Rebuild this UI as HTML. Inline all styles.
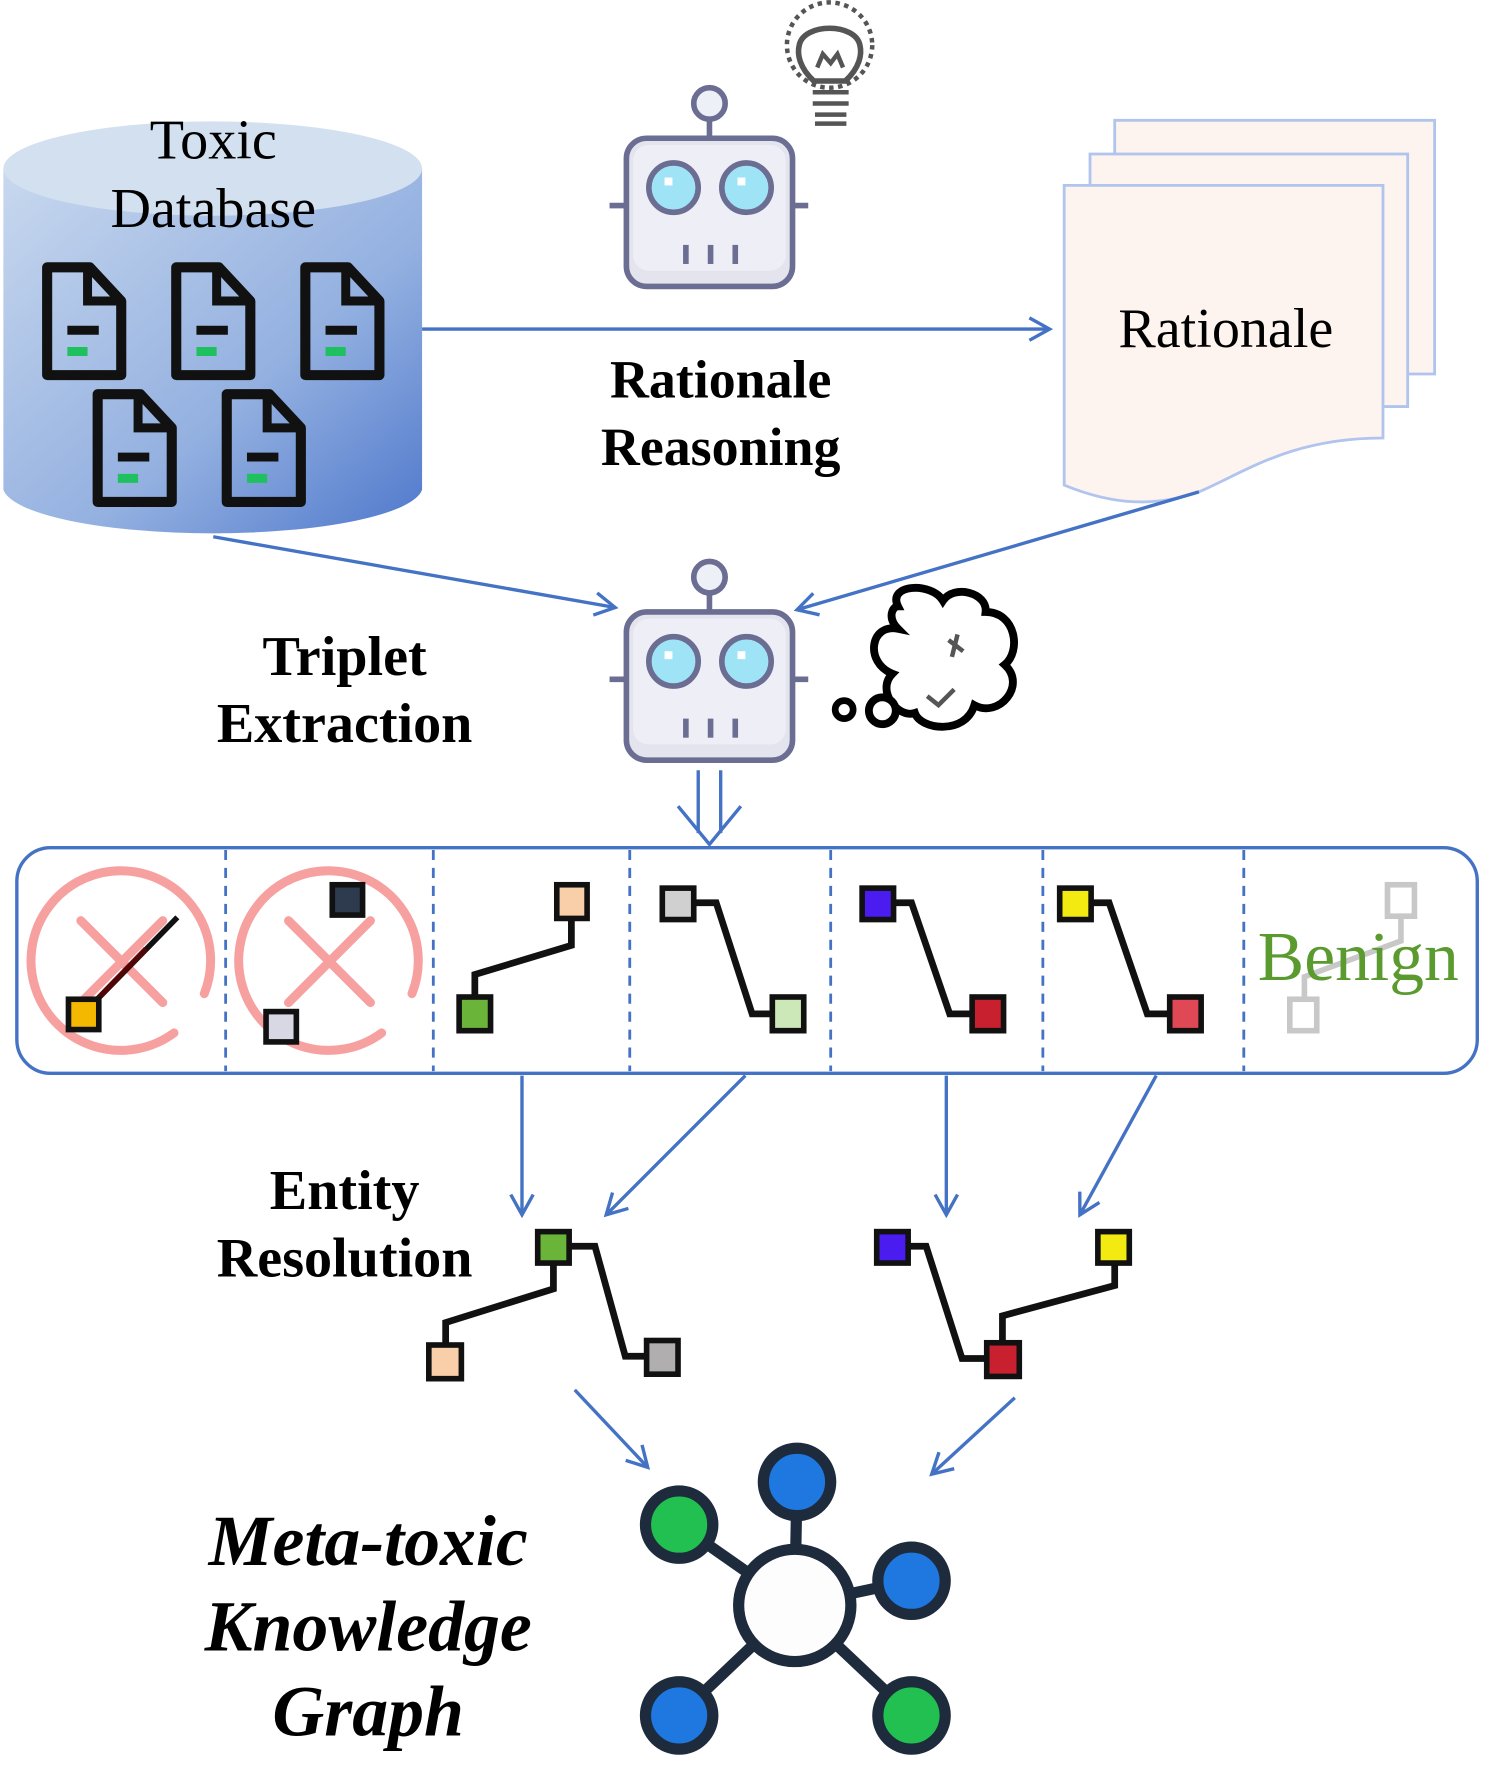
<!DOCTYPE html>
<html><head><meta charset="utf-8"><style>html,body{margin:0;padding:0;background:#fff}svg{display:block}</style></head><body>
<svg width="1493" height="1774" viewBox="0 0 1330 1580" xmlns="http://www.w3.org/2000/svg" font-family="Liberation Serif, serif">
<defs>
<linearGradient id="cyl" x1="0" y1="0" x2="1" y2="1"><stop offset="0" stop-color="#c8d8ee"/><stop offset="0.6" stop-color="#93b0e0"/><stop offset="1" stop-color="#4f78cc"/></linearGradient>
<marker id="ar" markerWidth="24" markerHeight="24" refX="20" refY="12" orient="auto" markerUnits="userSpaceOnUse"><path d="M2,2 L20,12 L2,22" fill="none" stroke="#4472c4" stroke-width="3"/></marker>
<g id="doc"><path d="M4,0 H42 L70,30 V96 H4 Z" fill="none" stroke="#111" stroke-width="9" stroke-linejoin="round"/><path d="M40,2 V30 H68" fill="none" stroke="#111" stroke-width="8"/><line x1="22" y1="56" x2="50" y2="56" stroke="#111" stroke-width="8"/><line x1="22" y1="75" x2="40" y2="75" stroke="#1fc060" stroke-width="8"/></g>
<g id="robot"><line x1="632" y1="106" x2="632" y2="124" stroke="#6b6d92" stroke-width="5"/><circle cx="632" cy="92" r="14" fill="#eef0f8" stroke="#6b6d92" stroke-width="5"/><line x1="543" y1="183" x2="560" y2="183" stroke="#6b6d92" stroke-width="5"/><line x1="704" y1="183" x2="720" y2="183" stroke="#6b6d92" stroke-width="5"/><rect x="558" y="123" width="148" height="132" rx="18" fill="#e3e4ee" stroke="#6b6d92" stroke-width="5"/><rect x="564" y="129" width="136" height="112" rx="14" fill="#eeeff6"/><circle cx="600" cy="167" r="22" fill="#9fe4f6" stroke="#6b6d92" stroke-width="5"/><circle cx="665" cy="167" r="22" fill="#9fe4f6" stroke="#6b6d92" stroke-width="5"/><rect x="592" y="158" width="7" height="7" fill="#fff"/><rect x="657" y="158" width="7" height="7" fill="#fff"/><g stroke="#6b6d92" stroke-width="5"><line x1="611" y1="218" x2="611" y2="235"/><line x1="633" y1="218" x2="633" y2="235"/><line x1="655" y1="218" x2="655" y2="235"/></g></g>
</defs>

<path d="M3,150 V436 A187,42 0 0 0 376,436 V150 Z" fill="url(#cyl)"/>
<ellipse cx="189.5" cy="150" rx="186.5" ry="42" fill="#d3e0f0"/>
<text x="190" y="141" font-size="50" text-anchor="middle">Toxic</text>
<text x="190" y="202" font-size="50" text-anchor="middle">Database</text>
<use href="#doc" x="38" y="238"/><use href="#doc" x="153" y="238"/><use href="#doc" x="268" y="238"/>
<use href="#doc" x="83" y="351"/><use href="#doc" x="198" y="351"/>

<line x1="376" y1="293" x2="935" y2="293" stroke="#4472c4" stroke-width="3" marker-end="url(#ar)"/>
<text x="642" y="354" font-size="48" font-weight="bold" text-anchor="middle">Rationale</text>
<text x="642" y="414" font-size="48" font-weight="bold" text-anchor="middle">Reasoning</text>

<use href="#robot"/>
<g fill="none" stroke="#555" stroke-width="4"><circle cx="739" cy="40" r="38" stroke-dasharray="4 4"/><path d="M725,72 C712,60 710,48 712,40 C716,20 762,20 766,40 C768,48 766,60 753,72 Z" fill="#fff" stroke-width="5"/><path d="M728,60 L733,48 L740,56 L746,48 L751,60"/><line x1="724" y1="82" x2="756" y2="82"/><line x1="724" y1="92" x2="756" y2="92"/><line x1="726" y1="102" x2="754" y2="102"/><line x1="726" y1="110" x2="754" y2="110"/></g>

<g fill="#fdf3ef" stroke="#b0c4ee" stroke-width="2.5">
<path d="M993,107 H1278 V333 H993 Z"/>
<path d="M971,137 H1254 V362 H971 Z"/>
<path d="M948,165 H1232 V390 C1150,390 1110,420 1068,438 C1020,455 980,445 948,432 Z"/>
</g>
<text x="1092" y="309" font-size="50" text-anchor="middle">Rationale</text>

<line x1="190" y1="478" x2="548" y2="541" stroke="#4472c4" stroke-width="3" marker-end="url(#ar)"/>
<line x1="1068" y1="438" x2="710" y2="543" stroke="#4472c4" stroke-width="3" marker-end="url(#ar)"/>

<use href="#robot" y="422"/>
<path d="M800,540 C790,520 830,518 840,535 C850,520 880,528 878,545 C905,545 910,580 895,592 C915,610 890,640 868,628 C860,655 820,650 815,635 C800,640 780,615 795,600 C770,590 775,555 800,560 C790,550 795,540 800,540 Z" fill="#fff" stroke="#000" stroke-width="7"/>
<path d="M845,570 L858,580 M853,565 L848,585" stroke="#555" stroke-width="4"/>
<path d="M826,620 L836,628 L850,614" fill="none" stroke="#555" stroke-width="4"/>
<circle cx="752" cy="632" r="8" fill="#fff" stroke="#000" stroke-width="6"/>
<circle cx="786" cy="633" r="12" fill="#fff" stroke="#000" stroke-width="7"/>
<text x="307" y="601" font-size="50" font-weight="bold" text-anchor="middle">Triplet</text>
<text x="307" y="661" font-size="50" font-weight="bold" text-anchor="middle">Extraction</text>

<line x1="622" y1="686" x2="622" y2="742" stroke="#4472c4" stroke-width="3"/>
<line x1="642" y1="686" x2="642" y2="742" stroke="#4472c4" stroke-width="3"/>
<path d="M604,718 L632,752 L660,718" fill="none" stroke="#4472c4" stroke-width="3"/>

<rect x="15" y="755" width="1301" height="201" rx="30" fill="#fff" stroke="#4472c4" stroke-width="3"/>
<g stroke="#4472c4" stroke-width="2.5" stroke-dasharray="9 7">
<line x1="201" y1="757" x2="201" y2="954"/><line x1="386" y1="757" x2="386" y2="954"/><line x1="561" y1="757" x2="561" y2="954"/><line x1="740" y1="757" x2="740" y2="954"/><line x1="929" y1="757" x2="929" y2="954"/><line x1="1108" y1="757" x2="1108" y2="954"/>
</g>
<g fill="none" stroke="#f7a0a0" stroke-width="8" stroke-linecap="round">
<path d="M155,920 A80,80 0 1 1 182,885"/><line x1="72" y1="820" x2="145" y2="893"/><line x1="145" y1="820" x2="72" y2="893"/>
<path d="M340,920 A80,80 0 1 1 367,885"/><line x1="257" y1="820" x2="330" y2="893"/><line x1="330" y1="820" x2="257" y2="893"/>
</g>
<line x1="74" y1="903" x2="158" y2="817" stroke="#111" stroke-width="5"/>
<line x1="74" y1="903" x2="130" y2="845" stroke="#7a0000" stroke-width="5" opacity="0.6"/>
<rect x="61" y="890" width="27" height="27" fill="#f5b800" stroke="#111" stroke-width="5"/>
<rect x="296" y="788" width="27" height="27" fill="#2e3a4d" stroke="#111" stroke-width="5"/>
<rect x="237" y="901" width="27" height="27" fill="#d8d8e4" stroke="#111" stroke-width="5"/>
<path d="M423,902 V868 L509,842 V802" fill="none" stroke="#111" stroke-width="6"/>
<rect x="409" y="888" width="28" height="30" fill="#6ab43a" stroke="#111" stroke-width="5"/>
<rect x="496" y="788" width="27" height="30" fill="#f8cfa8" stroke="#111" stroke-width="5"/>
<g fill="none" stroke="#111" stroke-width="6">
<path d="M604,804 H638 L670,903 H703"/><path d="M782,804 H812 L846,903 H880"/><path d="M958,804 H988 L1022,903 H1055"/>
</g>
<rect x="590" y="791" width="28" height="28" fill="#d0d0d0" stroke="#111" stroke-width="5"/>
<rect x="688" y="888" width="28" height="30" fill="#cce8b8" stroke="#111" stroke-width="5"/>
<rect x="768" y="791" width="28" height="28" fill="#4a1cf0" stroke="#111" stroke-width="5"/>
<rect x="866" y="888" width="28" height="30" fill="#c8202e" stroke="#111" stroke-width="5"/>
<rect x="944" y="791" width="28" height="28" fill="#f2ea10" stroke="#111" stroke-width="5"/>
<rect x="1042" y="888" width="28" height="30" fill="#e04856" stroke="#111" stroke-width="5"/>
<g fill="none" stroke="#c8c8c8" stroke-width="5"><rect x="1236" y="788" width="24" height="28"/><rect x="1149" y="890" width="24" height="28"/><path d="M1248,816 V838 L1162,870 V890"/></g>
<text x="1210" y="873" font-size="62" fill="#5a9a2e" text-anchor="middle">Benign</text>

<g stroke="#4472c4" stroke-width="3" marker-end="url(#ar)">
<line x1="465" y1="958" x2="465" y2="1082"/><line x1="664" y1="958" x2="540" y2="1082"/>
<line x1="843" y1="958" x2="843" y2="1082"/><line x1="1030" y1="958" x2="962" y2="1082"/>
<line x1="512" y1="1238" x2="577" y2="1307"/><line x1="904" y1="1245" x2="830" y2="1313"/>
</g>
<text x="307" y="1077" font-size="50" font-weight="bold" text-anchor="middle">Entity</text>
<text x="307" y="1137" font-size="50" font-weight="bold" text-anchor="middle">Resolution</text>

<g fill="none" stroke="#111" stroke-width="6">
<path d="M493,1110 H530 L557,1208 H590"/><path d="M493,1110 V1148 L397,1178 V1213"/>
<path d="M795,1110 H825 L857,1210 H893"/><path d="M993,1110 V1145 L893,1172 V1210"/>
</g>
<rect x="479" y="1097" width="28" height="28" fill="#6ab43a" stroke="#111" stroke-width="5"/>
<rect x="576" y="1194" width="28" height="30" fill="#b0aeae" stroke="#111" stroke-width="5"/>
<rect x="382" y="1198" width="29" height="30" fill="#f8cfa8" stroke="#111" stroke-width="5"/>
<rect x="781" y="1097" width="28" height="28" fill="#4a1cf0" stroke="#111" stroke-width="5"/>
<rect x="978" y="1097" width="28" height="28" fill="#f2ea10" stroke="#111" stroke-width="5"/>
<rect x="879" y="1196" width="29" height="30" fill="#c8202e" stroke="#111" stroke-width="5"/>

<g stroke="#1e2b3d" stroke-width="10">
<line x1="708" y1="1430" x2="710" y2="1320"/><line x1="708" y1="1430" x2="605" y2="1358"/><line x1="708" y1="1430" x2="812" y2="1408"/><line x1="708" y1="1430" x2="605" y2="1528"/><line x1="708" y1="1430" x2="812" y2="1528"/>
<circle cx="708" cy="1430" r="50" fill="#fdfdfd"/>
<circle cx="710" cy="1320" r="30" fill="#1e78e0"/>
<circle cx="605" cy="1358" r="30" fill="#22c050"/>
<circle cx="812" cy="1408" r="30" fill="#1e78e0"/>
<circle cx="605" cy="1528" r="30" fill="#1e78e0"/>
<circle cx="812" cy="1528" r="30" fill="#22c050"/>
</g>
<g font-size="64" font-weight="bold" font-style="italic" text-anchor="middle">
<text x="328" y="1394">Meta-toxic</text><text x="328" y="1470">Knowledge</text><text x="328" y="1546">Graph</text>
</g>
</svg>
</body></html>
